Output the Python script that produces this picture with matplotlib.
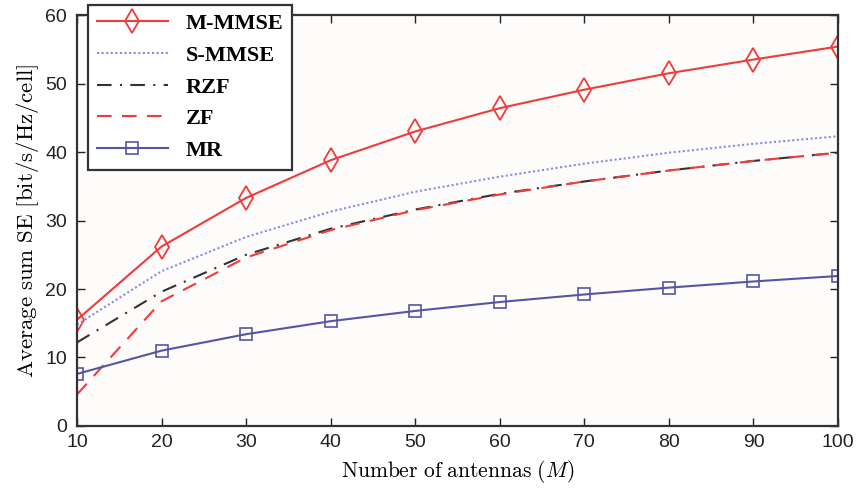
import numpy as np
import matplotlib
matplotlib.use("Agg")
import matplotlib.pyplot as plt

plt.rcParams['mathtext.fontset'] = 'cm'

M = [10, 20, 30, 40, 50, 60, 70, 80, 90, 100]

m_mmse = [15.5, 26.2, 33.3, 38.8, 43.0, 46.4, 49.1, 51.5, 53.5, 55.4]
s_mmse = [14.8, 22.6, 27.6, 31.3, 34.2, 36.4, 38.3, 39.9, 41.2, 42.3]
rzf = [12.2, 19.6, 25.0, 28.8, 31.6, 33.9, 35.7, 37.3, 38.7, 39.9]
zf = [4.6, 18.2, 24.6, 28.6, 31.5, 33.8, 35.7, 37.3, 38.7, 39.9]
mr = [7.6, 11.0, 13.4, 15.3, 16.8, 18.1, 19.2, 20.2, 21.1, 21.9]

labels = ["M-MMSE", "S-MMSE", "RZF", "ZF", "MR"]

fig = plt.figure(figsize=(8.59, 4.91), dpi=100)
ax = fig.add_axes([0.0896, 0.1324, 0.886, 0.837])
ax.set_facecolor("#fdfcfb")

red = "#ee3b3b"
ax.plot(M, m_mmse, color=red, lw=1.5, marker="d", markersize=12,
        markerfacecolor="none", markeredgewidth=1.3, label=labels[0])
ax.plot(M, s_mmse, color="#8a8ae6", lw=1.5, ls=(0, (1, 1.2)), label=labels[1])
ax.plot(M, rzf, color="#333333", lw=1.5, ls=(0, (7, 4, 1, 4)), label=labels[2])
ax.plot(M, zf, color=red, lw=1.5, ls=(0, (7, 5)), label=labels[3])
ax.plot(M, mr, color="#5555a5", lw=1.5, marker="s", markersize=9,
        markerfacecolor="none", markeredgewidth=1.2, label=labels[4])

ax.set_xlim(10, 100)
ax.set_ylim(0, 60)
ax.set_xticks(np.arange(10, 101, 10))
ax.set_yticks(np.arange(0, 61, 10))
ax.tick_params(direction="in", top=True, right=True, labelsize=14, length=6,
               width=1.0, colors="#222222", labelfontfamily="Liberation Sans")
ax.tick_params(axis="y", pad=7)
ax.tick_params(axis="x", pad=6)
for s in ax.spines.values():
    s.set_linewidth(1.6)
    s.set_color("#333333")

ax.set_xlabel(r"$\mathrm{Number\ of\ antennas\ (}M\mathrm{)}$", fontsize=15.5,
              labelpad=5)
ax.set_ylabel(r"$\mathrm{Average\ sum\ SE\ [bit/s/Hz/cell]}$", fontsize=16.5,
              labelpad=3)

leg = ax.legend(loc="upper left", bbox_to_anchor=(0.014, 1.025),
                prop={"family": "Liberation Serif", "size": 16, "weight": "bold"},
                fancybox=False, edgecolor="#333333", framealpha=1,
                handlelength=3.2, labelspacing=0.5, borderaxespad=0)
leg.get_frame().set_linewidth(1.6)

fig.savefig("out.png", dpi=100)
